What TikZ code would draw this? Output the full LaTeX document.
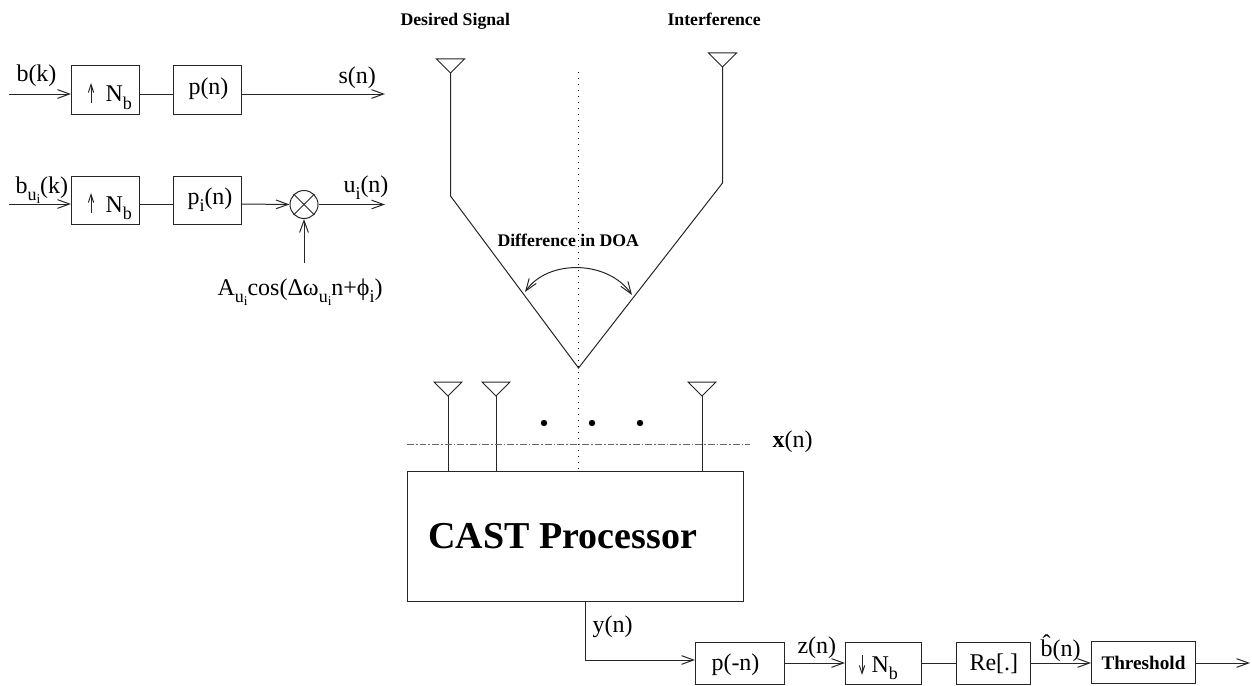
\documentclass[tikz,border=0pt]{standalone}
\usepackage{fontspec}
\setmainfont{Liberation Serif}
\usetikzlibrary{arrows.meta}
\newcommand{\lowtxt}[1]{\raisebox{-.3em}{\fontsize{13.5}{13.5}\selectfont #1}}
\newcommand{\lowlow}[1]{\raisebox{-.18em}{\fontsize{10}{10}\selectfont #1}}
\tikzset{
  x=0.75pt,y=-0.75pt,
  every path/.style={line width=0.75pt},
  wire/.style={draw=black!85},
  sig/.style={wire,-{Straight Barb[length=9pt,width=6.5pt]}},
  blockbox/.style={draw=black!85,rectangle,inner sep=0pt},
  lbl/.style={anchor=base west,inner sep=0pt,font=\fontsize{18}{18}\selectfont},
  boldlbl/.style={anchor=base west,inner sep=0pt,font=\fontsize{13.3}{13.3}\selectfont\bfseries},
  ant/.style={draw=black!85,line join=miter},
  dotmark/.style={circle,fill=black,inner sep=0pt,minimum size=4.8pt}
}
\begin{document}
\begin{tikzpicture}
\useasboundingbox (0,0) rectangle (1252,685);
% top-left chain
\node[blockbox,minimum width=51pt,minimum height=36pt] (up1) at (105.5,90) {};
\node[blockbox,minimum width=51pt,minimum height=36pt] (pn) at (207.75,90) {};
\coordinate (in1) at (9,94);
\coordinate (in1e) at (71,94);
\coordinate (up1o) at (140,94);
\coordinate (pn1i) at (173.5,94);
\coordinate (pn1o) at (242,94);
\coordinate (sout) at (385,94);
\draw[sig] (in1) -- (in1e);
\draw[wire] (up1o) -- (pn1i);
\draw[sig] (pn1o) -- (sout);
\node[lbl] (tbk) at (16,82) {b(k)};
\node[lbl] (tn1) at (105,102) {N\lowtxt{b}};
\node[lbl] (tpn) at (188,94) {p(n)};
\node[lbl] (tsn) at (338,84) {s(n)};
\coordinate (ua1) at (91,103);
\coordinate (ub1) at (91,83);
\draw[wire,-{Straight Barb[length=6pt,width=4pt]}] (ua1) -- (ub1);
% second chain
\node[blockbox,minimum width=51pt,minimum height=35.5pt] (up2) at (105.5,200.5) {};
\node[blockbox,minimum width=51pt,minimum height=35.5pt] (pi) at (207.75,200.5) {};
\node[draw=black!85,circle,minimum size=21pt,inner sep=0pt] (mix) at (304,204.5) {};
\coordinate (in2) at (9,204);
\coordinate (in2e) at (71,204);
\coordinate (up2o) at (140,204);
\coordinate (pi2i) at (173.5,204);
\coordinate (pi2o) at (242,204);
\coordinate (uout) at (385,204.5);
\coordinate (acos) at (304,263);
\draw[sig] (in2) -- (in2e);
\draw[wire] (up2o) -- (pi2i);
\draw[sig] (pi2o) -- (mix.west);
\draw[sig] (mix.east) -- (uout);
\draw[sig] (acos) -- (mix.south);
\draw[wire] (mix.45) -- (mix.225);
\draw[wire] (mix.135) -- (mix.315);
\node[lbl] (tbu) at (15,193) {b\lowtxt{u\lowlow{i}}(k)};
\node[lbl] (tn2) at (105,212) {N\lowtxt{b}};
\node[lbl] (tpi) at (187,204) {p\lowtxt{i}(n)};
\node[lbl] (tun) at (343,192) {u\lowtxt{i}(n)};
\node[lbl] (tcos) at (217,295) {A\lowtxt{u\lowlow{i}}cos(Δω\lowtxt{u\lowlow{i}}n+ϕ\lowtxt{i})};
\coordinate (ua2) at (91,213);
\coordinate (ub2) at (91,193);
\draw[wire,-{Straight Barb[length=6pt,width=4pt]}] (ua2) -- (ub2);
% DOA geometry
\node[boldlbl] (tds) at (400,26) {Desired Signal};
\node[boldlbl] (tif) at (667,26) {Interference};
\coordinate (apex) at (578.5,368);
\coordinate (dtop) at (578.5,72);
\coordinate (la) at (450.5,73);
\coordinate (lk) at (450.5,196);
\coordinate (lt1) at (436.5,59);
\coordinate (lt2) at (464.5,59);
\coordinate (ra) at (722.5,67);
\coordinate (rk) at (722.5,183);
\coordinate (rt1) at (708.5,53);
\coordinate (rt2) at (736.5,53);
\draw[ant] (lt1) -- (lt2) -- (la) -- cycle;
\draw[ant] (rt1) -- (rt2) -- (ra) -- cycle;
\draw[wire] (la) -- (lk) -- (apex) -- (rk) -- (ra);
\node[boldlbl] (tdoa) at (497,246) {Difference in DOA};
\coordinate (arcl) at (525,292);
\coordinate (arcr) at (632,295);
\draw[wire,{Straight Barb[length=9pt,width=6.5pt]}-{Straight Barb[length=9pt,width=6.5pt]}]
  (arcl) .. controls (548,259) and (608,260) .. (arcr);
% CAST
\node[blockbox,minimum width=252pt,minimum height=97.5pt] (cast) at (575,536) {};
\node[anchor=base west,inner sep=0pt,font=\fontsize{28.5}{28.5}\selectfont\bfseries] (tcast) at (428,548) {CAST Processor};
\coordinate (dbot) at (578.5,471);
\draw[draw=black,dash pattern=on 1pt off 3.5pt] (dtop) -- (dbot);
% array
\foreach \n/\cx in {a/448,b/496,c/702}{
  \coordinate (\n1) at (\cx-14,382);
  \coordinate (\n2) at (\cx+14,382);
  \coordinate (\n3) at (\cx,396);
  \coordinate (\n4) at (\cx,471);
  \draw[ant] (\n1) -- (\n2) -- (\n3) -- cycle;
  \draw[wire] (\n3) -- (\n4);
}
\node[dotmark] (d1) at (544,423) {};
\node[dotmark] (d2) at (592,423) {};
\node[dotmark] (d3) at (640,423) {};
\coordinate (xl) at (407,444);
\coordinate (xr) at (750,444);
\draw[draw=black!60,dash pattern=on 5.2pt off 1.5pt on 1.2pt off 1.5pt] (xl) -- (xr);
\node[lbl] (tx) at (772,447) {\textbf{x}(n)};
% receiver chain
\node[blockbox,minimum width=66.75pt,minimum height=31pt] (mf) at (739.5,663.5) {};
\node[blockbox,minimum width=57pt,minimum height=31pt] (dn) at (883,663.5) {};
\node[blockbox,minimum width=55.5pt,minimum height=31pt] (re) at (993,663.5) {};
\node[blockbox,minimum width=78pt,minimum height=31pt] (th) at (1143,662.5) {};
\coordinate (ys) at (585,601);
\coordinate (yc) at (585,660);
\coordinate (mfi) at (695,660);
\coordinate (mfo) at (784,663);
\coordinate (dni) at (845,663);
\coordinate (dno) at (921,663);
\coordinate (rei) at (956,663);
\coordinate (reo) at (1030,663);
\coordinate (thi) at (1091,663);
\coordinate (tho) at (1195,663);
\coordinate (bout) at (1250,663);
\draw[sig] (ys) -- (yc) -- (mfi);
\draw[sig] (mfo) -- (dni);
\draw[wire] (dno) -- (rei);
\draw[sig] (reo) -- (thi);
\draw[sig] (tho) -- (bout);
\node[lbl] (ty) at (592,632) {y(n)};
\node[lbl] (tmf) at (711,670) {p(-n)};
\node[lbl] (tz) at (797,653) {z(n)};
\node[lbl] (tn3) at (871,672) {N\lowtxt{b}};
\node[lbl] (tre) at (969,670) {Re[.]};
\node[lbl] (tbh) at (1040,656) {\rlap{\raisebox{.18em}{\kern.09em ˆ}}b(n)};
\node[anchor=base west,inner sep=0pt,font=\fontsize{14.4}{14.4}\selectfont\bfseries] (tth) at (1101,669) {Threshold};
\coordinate (ua3) at (862,655);
\coordinate (ub3) at (862,675);
\draw[wire,-{Straight Barb[length=6pt,width=4pt]}] (ua3) -- (ub3);
\end{tikzpicture}
\end{document}
